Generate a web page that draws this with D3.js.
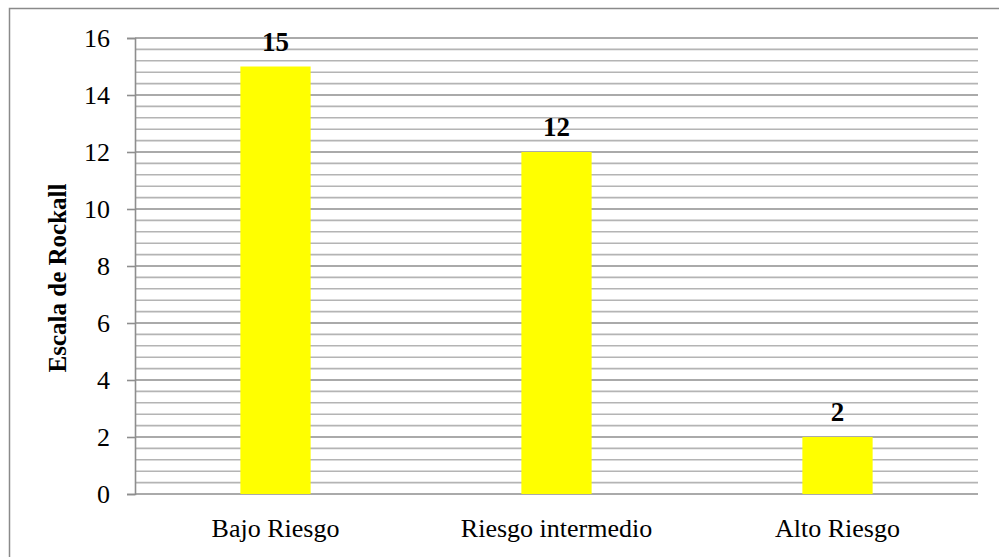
<!DOCTYPE html>
<html>
<head>
<meta charset="utf-8">
<script src="https://cdn.jsdelivr.net/npm/d3@7/dist/d3.min.js"></script>
<style>
  html, body { margin: 0; padding: 0; background: #fff; }
  svg { display: block; }
</style>
</head>
<body>
<svg id="chart" width="999" height="557"></svg>
<script>
// Rockall score distribution
const categories = ["Bajo Riesgo", "Riesgo intermedio", "Alto Riesgo"];
const values = [15, 12, 2];
const majorTicks = [0, 2, 4, 6, 8, 10, 12, 14, 16];
const yTitle = "Escala de Rockall";

const W = 999, H = 557;
const margin = { top: 38, right: 21, bottom: 63, left: 135 };
const serif = "'Liberation Serif', 'Times New Roman', serif";
const svg = d3.select("#chart");

// outer frame
svg.append("rect")
  .attr("x", 9.5).attr("y", 8.5)
  .attr("width", W + 10).attr("height", H + 10)
  .attr("fill", "none").attr("stroke", "#8a8a8a").attr("stroke-width", 1.5);

const x = d3.scaleBand()
  .domain(categories)
  .range([margin.left, W - margin.right])
  .paddingInner(0.75).paddingOuter(0.375);

const y = d3.scaleLinear()
  .domain([0, 16])
  .range([H - margin.bottom, margin.top]);

const g = svg.append("g");

// minor gridlines every 0.4
const minor = d3.range(0, 41).map(i => i * 0.4).filter(v => v <= 16 && Math.abs(v / 2 - Math.round(v / 2)) > 1e-6);
g.selectAll("line.minor").data(minor).join("line")
  .attr("class", "minor")
  .attr("x1", margin.left).attr("x2", W - margin.right)
  .attr("y1", d => y(d)).attr("y2", d => y(d))
  .attr("stroke", "#b4b4b4").attr("stroke-width", 1.6);

// major gridlines
g.selectAll("line.major").data(majorTicks).join("line")
  .attr("class", "major")
  .attr("x1", margin.left).attr("x2", W - margin.right)
  .attr("y1", d => y(d)).attr("y2", d => y(d))
  .attr("stroke", "#8e8e8e").attr("stroke-width", 1.6);

// bars
g.selectAll("rect.bar").data(values).join("rect")
  .attr("class", "bar")
  .attr("x", (d, i) => x(categories[i]))
  .attr("width", x.bandwidth())
  .attr("y", d => y(d))
  .attr("height", d => y(0) - y(d))
  .attr("fill", "#ffff00");

// value labels
g.selectAll("text.val").data(values).join("text")
  .attr("class", "val")
  .attr("x", (d, i) => x(categories[i]) + x.bandwidth() / 2)
  .attr("y", d => y(d) - 16)
  .attr("text-anchor", "middle")
  .attr("font-family", serif)
  .attr("font-weight", "bold")
  .attr("font-size", 27)
  .attr("fill", "#000")
  .text(d => d);

// y axis
const yAxis = d3.axisLeft(y).tickValues(majorTicks).tickSize(8).tickPadding(25);
const ya = svg.append("g").attr("transform", `translate(${margin.left},0)`).call(yAxis);
ya.select(".domain").attr("stroke", "#8e8e8e").attr("stroke-width", 1.6);
ya.selectAll(".tick line").attr("stroke", "#8e8e8e").attr("stroke-width", 1.6);
ya.selectAll(".tick text")
  .attr("x", -25)
  .attr("font-family", serif)
  .attr("font-size", 26)
  .attr("fill", "#000");

// x axis labels
const xAxis = d3.axisBottom(x).tickSize(0);
const xa = svg.append("g").attr("transform", `translate(0,${y(0)})`).call(xAxis);
xa.select(".domain").remove();
xa.selectAll(".tick text")
  .attr("y", 43).attr("dy", 0)
  .attr("font-family", serif)
  .attr("font-size", 26)
  .attr("fill", "#000");

// y title
svg.append("text")
  .attr("transform", "translate(66,278) rotate(-90)")
  .attr("text-anchor", "middle")
  .attr("font-family", serif)
  .attr("font-weight", "bold")
  .attr("font-size", 25)
  .attr("fill", "#000")
  .text(yTitle);
</script>
</body>
</html>
